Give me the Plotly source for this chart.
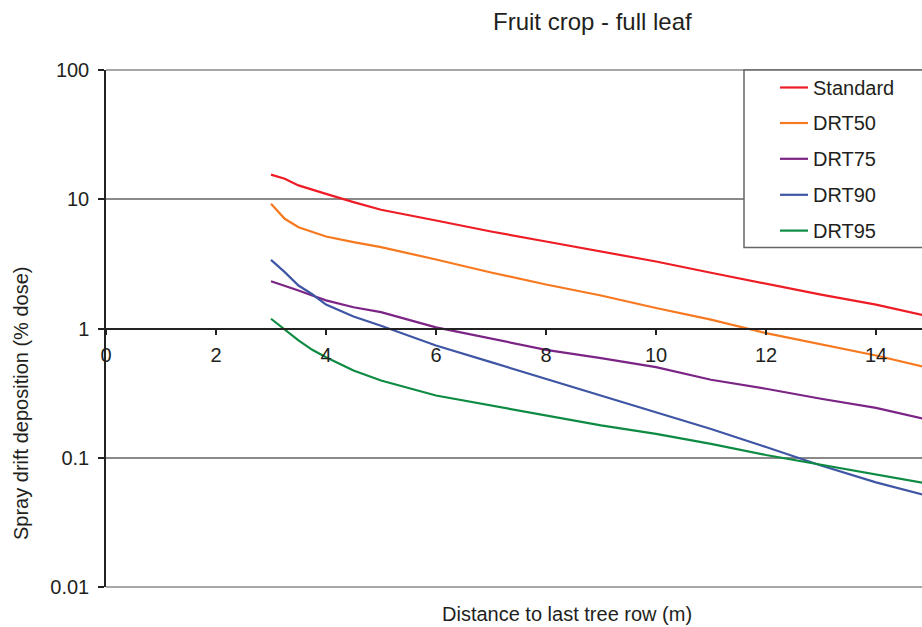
import plotly.graph_objects as go

# Distance to last tree row (m)
distance = [3, 3.25, 3.5, 3.75, 4, 4.5, 5, 6, 7, 8, 9, 10, 11, 12, 13, 14, 15]

# Spray drift deposition (% of dose) per technique
standard = [15.5, 14.4, 12.8, 11.8, 11.0, 9.5, 8.3, 6.85, 5.63, 4.71, 3.96, 3.30, 2.70, 2.22, 1.83, 1.53, 1.23]
drt50 = [9.22, 7.06, 6.08, 5.56, 5.15, 4.66, 4.26, 3.42, 2.71, 2.19, 1.80, 1.44, 1.17, 0.92, 0.752, 0.618, 0.49]
drt75 = [2.32, 2.15, 1.97, 1.80, 1.65, 1.46, 1.34, 1.02, 0.832, 0.684, 0.59, 0.502, 0.401, 0.342, 0.286, 0.243, 0.194]
drt90 = [3.40, 2.73, 2.15, 1.84, 1.53, 1.24, 1.05, 0.739, 0.549, 0.408, 0.30, 0.225, 0.167, 0.121, 0.087, 0.0645, 0.050]
drt95 = [1.19, 0.977, 0.808, 0.684, 0.600, 0.473, 0.396, 0.303, 0.254, 0.212, 0.178, 0.153, 0.128, 0.105, 0.0887, 0.075, 0.0625]

series_names = ["Standard", "DRT50", "DRT75", "DRT90", "DRT95"]
series_values = [standard, drt50, drt75, drt90, drt95]
series_colors = ["#EE1C25", "#F7791F", "#7B2485", "#3F56A5", "#0D8B43"]

x_ticks = [0, 2, 4, 6, 8, 10, 12, 14]
y_ticks = [0.01, 0.1, 1, 10, 100]
y_tick_text = ["0.01", "0.1", "1", "10", "100"]

W, H = 922, 627
ML, MR, MT, MB = 106, 0, 70, 40
PW, PH = W - ML - MR, H - MT - MB
PX_PER_M = 55.0

TEXT = "#231F20"
FONT = "Liberation Sans, Arial, sans-serif"


def px_x(p):
    return (p - ML) / PW


def px_y(p):
    return (H - MB - p) / PH


fig = go.Figure()
for name, vals, col in zip(series_names, series_values, series_colors):
    fig.add_trace(go.Scatter(
        x=distance, y=vals, name=name, mode="lines",
        line=dict(color=col, width=2.2), showlegend=False,
    ))

shapes = [
    # frame lines at the top (100) and bottom (0.01) of the value range
    dict(type="line", xref="paper", yref="paper", x0=0, x1=1, y0=1, y1=1,
         line=dict(color="#8A8A8A", width=1.5)),
    dict(type="line", xref="paper", yref="paper", x0=0, x1=1, y0=0, y1=0,
         line=dict(color="#8A8A8A", width=1.5)),
]

# legend box
lx0, ly0, ly1 = 744, 70, 247.5
shapes.append(dict(type="rect", xref="paper", yref="paper",
                   x0=px_x(lx0), x1=px_x(W + 20), y0=px_y(ly1), y1=px_y(ly0),
                   line=dict(color="#666666", width=1.5), fillcolor="white"))

annotations = []
row_y = [87.5, 123, 158.8, 194.8, 230.6]
for name, col, yy in zip(series_names, series_colors, row_y):
    shapes.append(dict(type="line", xref="paper", yref="paper",
                       x0=px_x(780), x1=px_x(808), y0=px_y(yy), y1=px_y(yy),
                       line=dict(color=col, width=2.2)))
    annotations.append(dict(xref="paper", yref="paper", x=px_x(811), y=px_y(yy),
                            text=name, showarrow=False, xanchor="left", yanchor="middle",
                            font=dict(size=20, color=TEXT, family=FONT)))

annotations += [
    dict(xref="paper", yref="paper", x=px_x(592), y=px_y(21),
         text="Fruit crop - full leaf", showarrow=False,
         xanchor="center", yanchor="middle",
         font=dict(size=24, color=TEXT, family=FONT)),
    dict(xref="paper", yref="paper", x=px_x(567), y=px_y(614),
         text="Distance to last tree row (m)", showarrow=False,
         xanchor="center", yanchor="middle",
         font=dict(size=20, color=TEXT, family=FONT)),
    dict(xref="paper", yref="paper", x=px_x(21), y=px_y(404),
         text="Spray drift deposition (% dose)", showarrow=False, textangle=-90,
         xanchor="center", yanchor="middle",
         font=dict(size=20, color=TEXT, family=FONT)),
]

fig.update_layout(
    width=W, height=H,
    margin=dict(l=ML, r=MR, t=MT, b=MB),
    paper_bgcolor="white", plot_bgcolor="white",
    font=dict(family=FONT, size=20, color=TEXT),
    shapes=shapes, annotations=annotations,
    xaxis=dict(
        range=[0, PW / PX_PER_M],
        anchor="free", position=0.5,
        showline=True, linecolor="#222222", linewidth=1.5,
        ticks="outside", ticklen=6, tickcolor="#222222", tickwidth=1.5,
        tickvals=x_ticks, ticklabelstandoff=3,
        showgrid=False, zeroline=False,
        tickfont=dict(size=20, color=TEXT, family=FONT),
    ),
    yaxis=dict(
        type="log", range=[-2, 2],
        showline=True, linecolor="#222222", linewidth=1.5,
        ticks="outside", ticklen=6, tickcolor="#222222", tickwidth=1.5,
        tickvals=y_ticks, ticktext=y_tick_text, ticklabelstandoff=5,
        showgrid=True, gridcolor="#8A8A8A", gridwidth=1.5,
        zeroline=False,
        tickfont=dict(size=20, color=TEXT, family=FONT),
    ),
)

fig.write_html("out.html")
